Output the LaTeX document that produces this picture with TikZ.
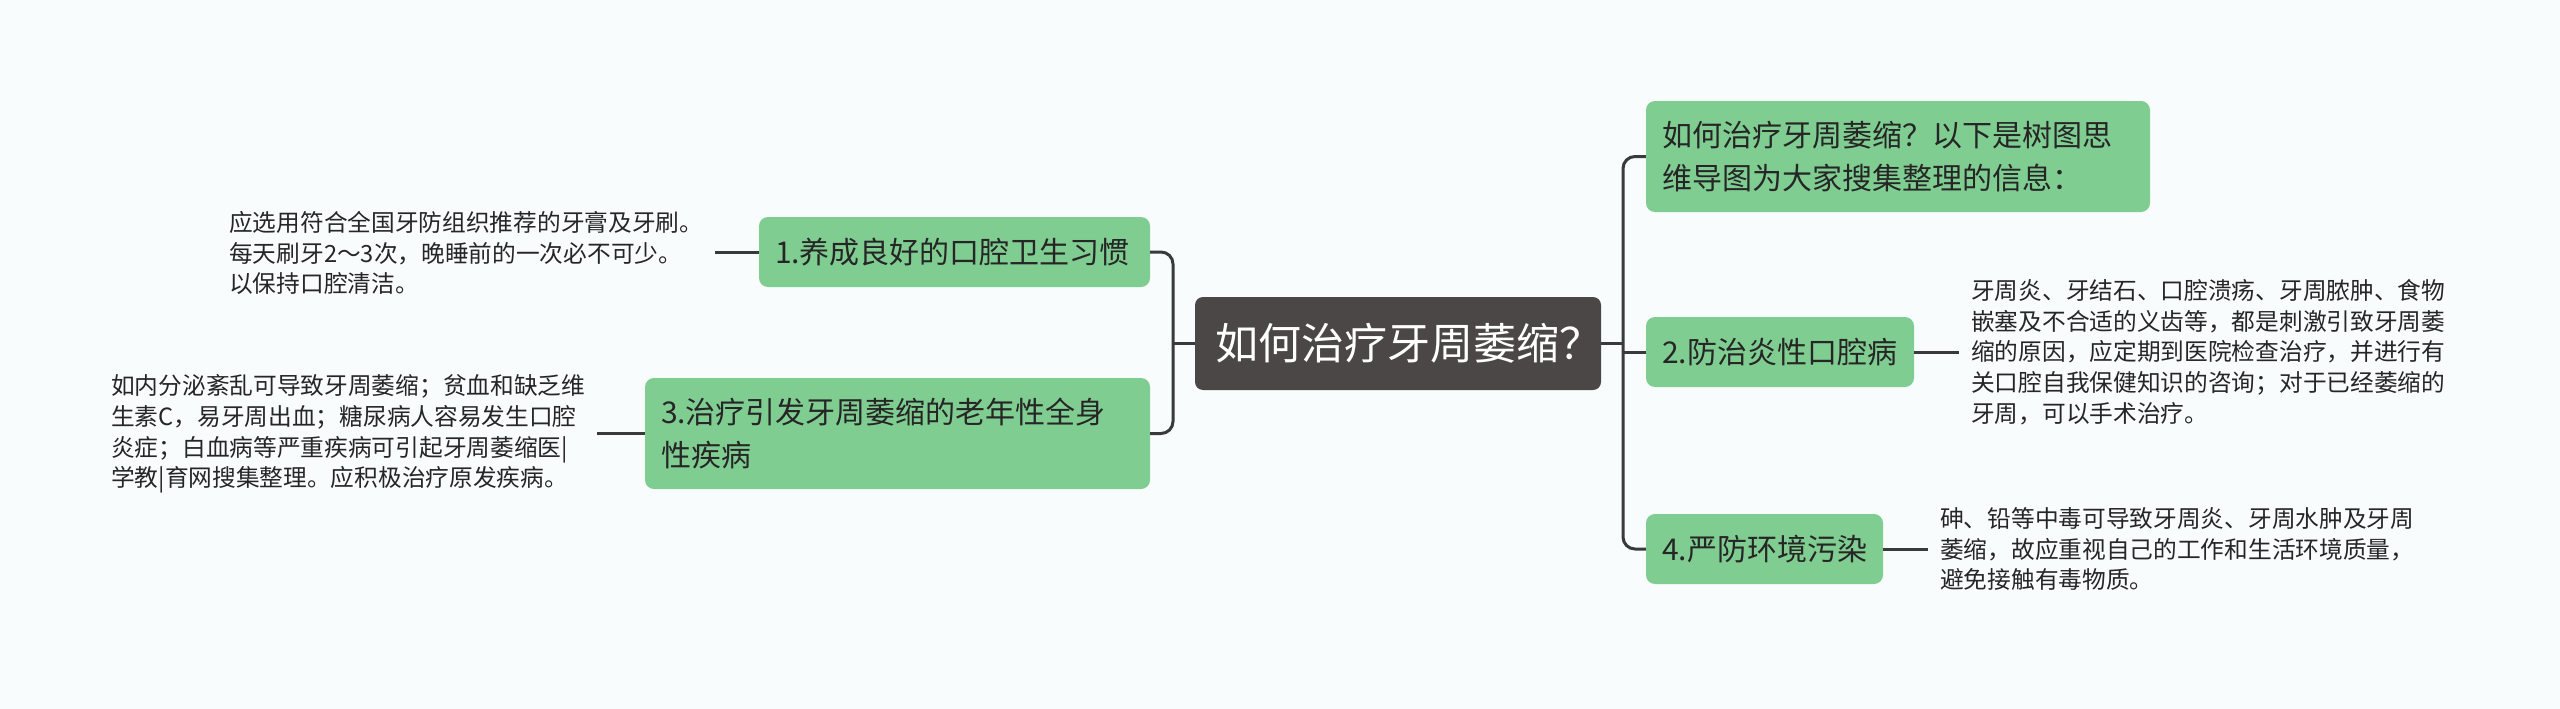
\documentclass[tikz,border=0pt]{standalone}
\usepackage{fontspec}
\setmainfont{Noto Sans CJK SC}
\definecolor{bg}{RGB}{248,252,253}
\definecolor{boxgreen}{RGB}{128,205,146}
\definecolor{rootgray}{RGB}{76,71,71}
\definecolor{linegray}{RGB}{58,58,58}
\definecolor{txt}{RGB}{38,38,38}
\begin{document}
\begin{tikzpicture}[x=1pt,y=-1pt,
  topicbox/.style={fill=boxgreen, rounded corners=9pt, text=txt,
    font=\fontsize{30}{43}\selectfont, inner xsep=16pt, inner ysep=0pt, align=left},
  rootbox/.style={fill=rootgray, rounded corners=8pt, text=white,
    font=\fontsize{43}{50}\selectfont, inner xsep=20pt, inner ysep=0pt, align=left},
  leaf/.style={text=txt, font=\fontsize{23.7}{30.7}\selectfont, align=left,
    inner xsep=12pt, inner ysep=0pt},
  conn/.style={draw=linegray, line width=3pt, rounded corners=12pt}]
\fill[bg] (0,0) rectangle (2560,709);
\useasboundingbox (0,0) rectangle (2560,709);

% root
\node[rootbox, text width=366pt, minimum height=93pt] (root) at (1398,343.5) {如何治疗牙周萎缩？};

% right topics
\node[topicbox, text width=472pt, minimum height=111pt] (t0) at (1898,156.5)
  {如何治疗牙周萎缩？以下是树图思\\维导图为大家搜集整理的信息：};
\node[topicbox, text width=236pt, minimum height=70pt] (t2) at (1780,352) {2.防治炎性口腔病};
\node[topicbox, text width=205pt, minimum height=70pt] (t4) at (1764.5,549) {4.严防环境污染};

% left topics
\node[topicbox, text width=359pt, minimum height=70pt] (t1) at (954.5,252) {1.养成良好的口腔卫生习惯};
\node[topicbox, text width=473pt, minimum height=111pt] (t3) at (897.5,433.5)
  {3.治疗引发牙周萎缩的老年性全身\\性疾病};

% leaves
\node[leaf, anchor=west] (l1) at (217,253)
  {应选用符合全国牙防组织推荐的牙膏及牙刷。\\每天刷牙2～3次，晚睡前的一次必不可少。\\以保持口腔清洁。};
\node[leaf, anchor=west] (l3) at (99,434)
  {如内分泌紊乱可导致牙周萎缩；贫血和缺乏维\\生素C，易牙周出血；糖尿病人容易发生口腔\\炎症；白血病等严重疾病可引起牙周萎缩医|\\学教|育网搜集整理。应积极治疗原发疾病。};
\node[leaf, anchor=west] (l2) at (1959,352)
  {牙周炎、牙结石、口腔溃疡、牙周脓肿、食物\\嵌塞及不合适的义齿等，都是刺激引致牙周萎\\缩的原因，应定期到医院检查治疗，并进行有\\关口腔自我保健知识的咨询；对于已经萎缩的\\牙周，可以手术治疗。};
\node[leaf, anchor=west] (l4) at (1928,549)
  {砷、铅等中毒可导致牙周炎、牙周水肿及牙周\\萎缩，故应重视自己的工作和生活环境质量，\\避免接触有毒物质。};

% junctions
\coordinate (lj) at (1173,343.5);
\coordinate (rj) at (1623,343.5);

% connectors left
\draw[conn] (root.west) -- (lj);
\draw[conn] (t1.east) -- (t1.east -| lj) -- (t3.east -| lj) -- (t3.east);
% connectors right
\draw[conn] (root.east) -- (rj);
\draw[conn] (t0.west) -- (t0.west -| rj) -- (t4.west -| rj) -- (t4.west);
\draw[conn] (t2.west -| rj) -- (t2.west);
% leaf connectors
\draw[conn] (t1.west) -- (t1.west -| l1.east);
\draw[conn] (t3.west) -- (t3.west -| l3.east);
\draw[conn] (t2.east) -- (t2.east -| l2.west);
\draw[conn] (t4.east) -- (t4.east -| l4.west);
\end{tikzpicture}
\end{document}
